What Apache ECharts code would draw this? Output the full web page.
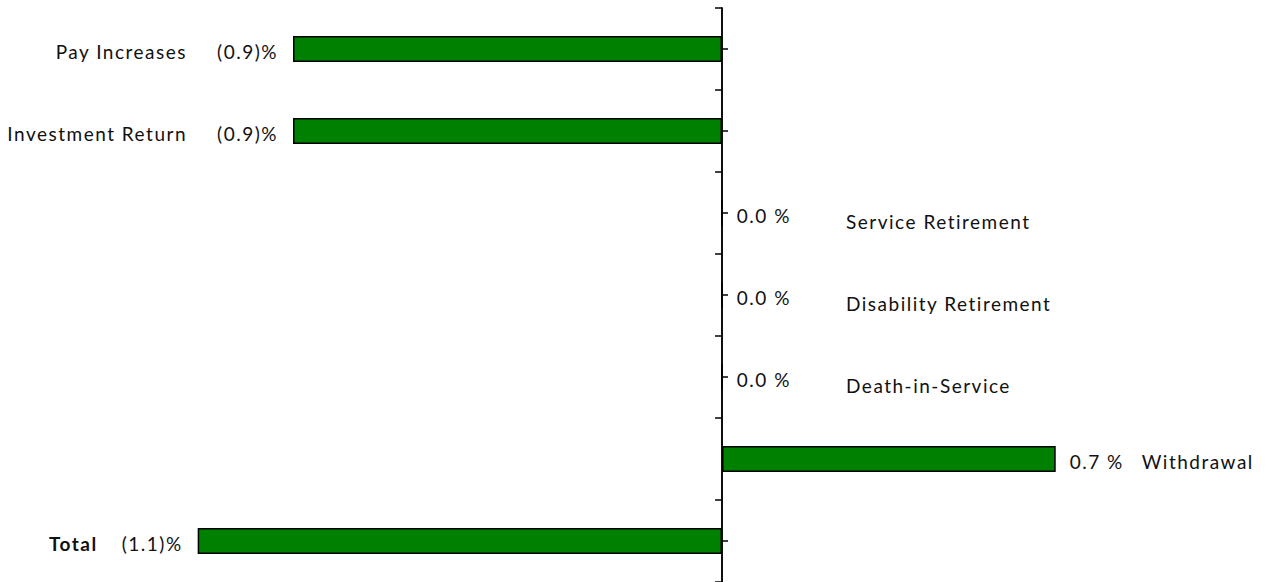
<!DOCTYPE html>
<html>
<head>
<meta charset="utf-8">
<script src="https://cdn.jsdelivr.net/npm/echarts@6/dist/echarts.min.js"></script>
<style>
  html, body { margin: 0; padding: 0; background: #ffffff; }
  #chart { width: 1280px; height: 582px; }
  /* slightly open tracking for all chart text */
  #chart text { letter-spacing: 1.5px; }
</style>
</head>
<body>
<div id="chart"></div>
<script>
// Gain / loss sources, as a percent of pay
const categories = [
  'Pay Increases',
  'Investment Return',
  'Service Retirement',
  'Disability Retirement',
  'Death-in-Service',
  'Withdrawal',
  'Total'
];
const values = [-0.9, -0.9, 0.0, 0.0, 0.0, 0.7, -1.1];

const FONT = 'Lato';
const TEXT = '#111111';
const lastIndex = categories.length - 1;

// Negative amounts read "(0.9)%", others "0.7 %"
function formatPct(v) {
  return v < 0 ? '(' + Math.abs(v).toFixed(1) + ')%' : v.toFixed(1) + ' %';
}

// Value labels sit just outside the bar end
const valueData = values.map(v => ({
  value: v,
  label: {
    position: v < 0 ? 'left' : 'right',
    distance: v < 0 ? 15 : 14,
    offset: [0, 2]
  }
}));

// Category names sit further out, beyond the value labels
const nameData = values.map((v, i) => {
  let position = 'right', distance = 86, offset = [0, 2];
  if (v < 0) { position = 'left'; distance = i === lastIndex ? 100 : 106; }
  else if (v === 0) { distance = 124; offset = [0, 8]; }
  return {
    value: v,
    label: {
      position, distance, offset,
      fontWeight: i === lastIndex ? 'bold' : 'normal'
    }
  };
});

const chart = echarts.init(document.getElementById('chart'), null, { renderer: 'svg' });
chart.setOption({
  animation: false,
  backgroundColor: '#ffffff',
  grid: { left: 7, right: 33.6, top: 8, bottom: -2, containLabel: false },
  xAxis: {
    type: 'value',
    min: -1.5,
    max: 1.1,
    show: false
  },
  yAxis: [
    {
      type: 'category',
      data: categories,
      inverse: true,
      axisLine: { show: true, onZero: true, onZeroAxisIndex: 0, lineStyle: { color: '#000', width: 1.5 } },
      axisTick: { show: true, alignWithLabel: false, inside: false, length: 7, lineStyle: { color: '#000', width: 1.5 } },
      axisLabel: { show: false },
      splitLine: { show: false }
    },
    {
      type: 'category',
      data: categories,
      inverse: true,
      position: 'left',
      axisLine: { show: true, onZero: true, onZeroAxisIndex: 0, lineStyle: { color: '#000', width: 1.5 } },
      axisTick: { show: true, alignWithLabel: true, inside: true, length: 6, lineStyle: { color: '#000', width: 1.5 } },
      axisLabel: { show: false },
      splitLine: { show: false }
    }
  ],
  series: [
    {
      type: 'bar',
      yAxisIndex: 0,
      data: valueData,
      barWidth: 26,
      itemStyle: { color: '#008000', borderColor: '#000000', borderWidth: 1.5 },
      label: {
        show: true,
        color: TEXT,
        fontFamily: FONT,
        fontSize: 19,
        formatter: p => formatPct(p.value)
      },
      emphasis: { disabled: true }
    },
    {
      type: 'bar',
      yAxisIndex: 0,
      data: nameData,
      barWidth: 26,
      barGap: '-100%',
      itemStyle: { color: 'rgba(0,0,0,0)', borderWidth: 0 },
      label: {
        show: true,
        color: TEXT,
        fontFamily: FONT,
        fontSize: 19,
        formatter: '{b}'
      },
      emphasis: { disabled: true }
    }
  ]
});
</script>
</body>
</html>
